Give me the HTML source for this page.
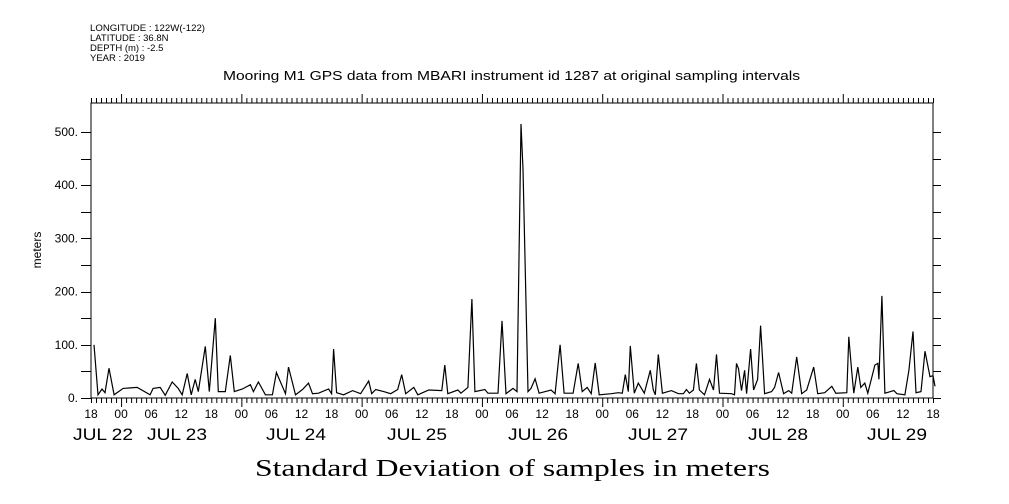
<!DOCTYPE html>
<html><head><meta charset="utf-8"><style>
body{margin:0;background:#fff;}
svg{display:block;font-family:"Liberation Sans",sans-serif;}
</style></head><body>
<svg id="c" width="1009" height="504" viewBox="0 0 1009 504">
<g font-size="9.5" fill="#000">
<text x="90" y="31" textLength="115" lengthAdjust="spacingAndGlyphs">LONGITUDE : 122W(-122)</text>
<text x="90" y="41">LATITUDE : 36.8N</text>
<text x="90" y="51">DEPTH (m) : -2.5</text>
<text x="90" y="61">YEAR : 2019</text>
</g>
<text x="223" y="80" font-size="13" textLength="577" lengthAdjust="spacingAndGlyphs">Mooring M1 GPS data from MBARI instrument id 1287 at original sampling intervals</text>
<text x="255" y="476" font-size="24" font-family="Liberation Serif,serif" textLength="515" lengthAdjust="spacingAndGlyphs">Standard Deviation of samples in meters</text>
<text transform="translate(41,250) rotate(-90)" font-size="12" text-anchor="middle">meters</text>
<g id="ax"></g>
<path id="line" fill="none" stroke="#000" stroke-width="1.2"></path>
</svg>
<script>
const hoursX = [94,98,102,105,109,114,123,137,150,153,160,165,172,178,182,187,191,195,198,205,209,215,218,225,230,234,242,250,253,258,265,272,276,285,288,295,302,308,312,318,328,331,333,336,343,352,360,368,371,375,383,390,397,401,405,413,417,428,441,444,447,457,460,467,471,474,484,487,497,501,505,512,516,520,522,527,530,534,538,550,554,559,563,572,577,581,586,590,594,598,610,617,621,624,627,629,633,637,643,649,652,654,657,661,670,677,682,685,688,692,695,698,703,708,712,715,718,730,733,735,737,740,743,745,749,752,756,759,763,770,773,777,782,787,790,795,800,805,812,816,823,830,834,845,847,850,852,856,859,863,866,873,876,877,880,883,892,895,903,907,911,914,919,923,928,931,933];
const values = [100,6,17,10,56,6,18,20,6,18,20,5,30,18,6,46,6,35,12,97,12,150,12,12,80,12,17,25,12,30,6,6,48,8,58,6,16,28,8,9,17,8,92,10,6,14,8,32,8,16,12,8,16,44,8,20,6,15,14,62,8,15,9,20,186,12,16,9,9,145,8,18,12,515,430,12,18,36,9,15,8,100,9,9,65,12,20,8,66,6,8,10,9,44,12,98,9,28,9,52,15,6,82,9,14,8,8,16,9,15,65,15,6,35,15,82,9,8,6,65,55,14,52,8,92,15,35,136,8,12,20,48,8,14,9,77,8,15,58,8,10,22,9,10,115,48,9,58,20,28,9,62,65,35,192,9,14,8,6,52,125,10,12,88,40,42,22];
const hourOf = hoursX.map(x => (x - 91) / 5);
const yTicks = [0,100,200,300,400,500];
const yTickLabels = ["0.","100.","200.","300.","400.","500."];
const hourLabels = ["18","00","06","12","18","00","06","12","18","00","06","12","18","00","06","12","18","00","06","12","18","00","06","12","18","00","06","12","18"];
const dayLabels = ["JUL 22","JUL 23","JUL 24","JUL 25","JUL 26","JUL 27","JUL 28","JUL 29"];
const dayLabelX = [103,177,296,417,538,658,778,897];

const L=91,R=933,T=103,B=398;
const sx = h => L + h*(R-L)/168;
const sy = v => B - v*(B-132)/500;
const NS="http://www.w3.org/2000/svg";
const ax=document.getElementById('ax');
function mk(tag,attrs,txt){const e=document.createElementNS(NS,tag);for(const k in attrs)e.setAttribute(k,attrs[k]);if(txt!==undefined)e.textContent=txt;ax.appendChild(e);return e;}
const fr=mk('rect',{x:L,y:T,width:R-L,height:B-T,fill:'none',stroke:'#000','stroke-width':1});


for(let h=0;h<=168;h++){
  const x=sx(h)+0.5, major=((h+18)%24===0);
  const len=major?9:5;
  const tb=mk('line',{x1:x,x2:x,y1:B,y2:B+len,stroke:'#000'});
  
  
  const tt=mk('line',{x1:x,x2:x,y1:T,y2:T-len,stroke:'#000'});
  
  
}
for(let i=0;i<hourLabels.length;i++){
  const t=mk('text',{x:sx(i*6),y:418,'font-size':12,'text-anchor':'middle'},hourLabels[i]);
  
  
}
for(let i=0;i<dayLabels.length;i++){
  const t=mk('text',{x:dayLabelX[i]-30,y:440,'font-size':17,textLength:60,lengthAdjust:'spacingAndGlyphs'},dayLabels[i]);
  
  
}
for(let v=0;v<=500;v+=50){
  const y=Math.round(sy(v))+0.5;
  const a=mk('line',{x1:L-10,x2:L,y1:y,y2:y,stroke:'#000'});
  
  
  const b=mk('line',{x1:R,x2:R+8,y1:y,y2:y,stroke:'#000'});
  
  
}
for(let i=0;i<yTicks.length;i++){
  const t=mk('text',{x:78,y:sy(yTicks[i])+4,'font-size':12,'text-anchor':'end'},yTickLabels[i]);
  
  
}
document.getElementById('line').setAttribute('d',hourOf.map((h,i)=>(i?'L':'M')+sx(h).toFixed(1)+','+sy(values[i]).toFixed(1)).join(''));
</script>
</body></html>
